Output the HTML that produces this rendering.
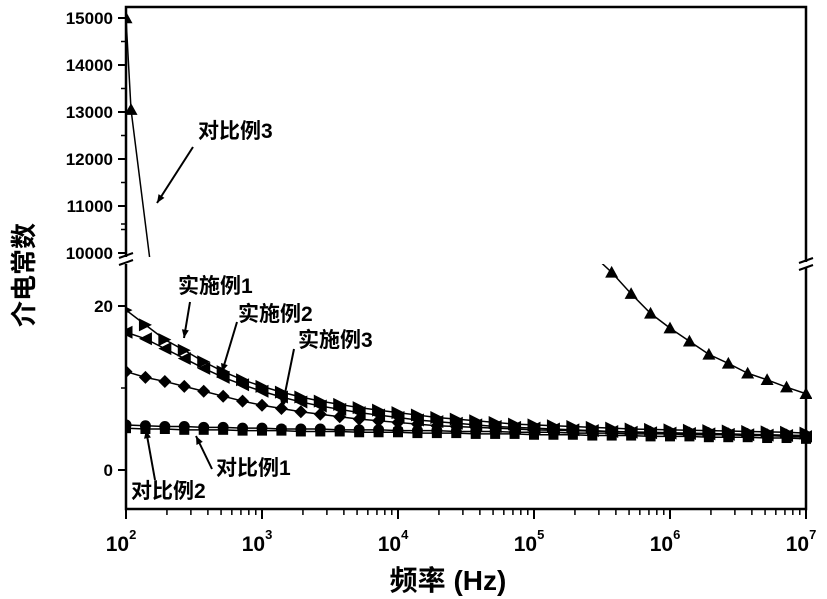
<!DOCTYPE html>
<html><head><meta charset="utf-8"><style>
body{margin:0;background:#fff}
svg{display:block}
text{font-family:"Liberation Sans","Noto Sans CJK SC",sans-serif;font-weight:bold;fill:#000}
</style></head><body>
<svg id="chart" width="827" height="599" viewBox="0 0 827 599"></svg>
<script>
const logF = [];
for (let k = 0; k <= 35; k++) logF.push(2 + k / 7);
const example1 = [19.5,17.7,15.9,14.6,13.2,12.0,11.0,10.2,9.5,8.9,8.4,8.0,7.6,7.3,7.0,6.7,6.4,6.2,6.0,5.8,5.6,5.5,5.4,5.3,5.2,5.1,5.0,4.95,4.9,4.85,4.8,4.75,4.7,4.65,4.6,4.5];
const example2 = [16.8,16.0,14.8,13.6,12.4,11.3,10.4,9.6,8.9,8.3,7.8,7.4,7.0,6.7,6.4,6.1,5.9,5.7,5.5,5.3,5.2,5.1,5.0,4.9,4.8,4.7,4.6,4.55,4.5,4.45,4.4,4.35,4.3,4.25,4.2,4.1];
const example3 = [12.0,11.3,10.8,10.2,9.6,9.0,8.4,7.9,7.5,7.1,6.8,6.5,6.2,6.0,5.8,5.6,5.4,5.3,5.2,5.1,5.0,4.9,4.85,4.8,4.75,4.7,4.65,4.6,4.55,4.5,4.45,4.4,4.35,4.3,4.25,4.2];
const compare1 = [5.5,5.4,5.3,5.3,5.2,5.2,5.1,5.1,5.0,5.0,5.0,4.9,4.9,4.9,4.8,4.8,4.8,4.7,4.7,4.7,4.6,4.6,4.6,4.5,4.5,4.5,4.4,4.4,4.4,4.3,4.3,4.3,4.2,4.2,4.1,4.0];
const compare2 = [5.1,5.0,5.0,4.9,4.9,4.9,4.8,4.8,4.8,4.7,4.7,4.7,4.6,4.6,4.6,4.5,4.5,4.5,4.4,4.4,4.4,4.3,4.3,4.3,4.2,4.2,4.2,4.1,4.1,4.1,4.0,4.0,4.0,3.9,3.9,3.8];
const compare3HighLogF = [2.0, 2.037, 2.2];
const compare3High = [15000, 13050, 9300];
const compare3LowLogF = [5.50,5.571,5.714,5.857,6.0,6.143,6.286,6.429,6.571,6.714,6.857,7.0];
const compare3Low = [25.2,24.1,21.5,19.1,17.3,15.7,14.1,13.0,11.8,11.0,10.1,9.3];
const xTicks = [2,3,4,5,6,7];
const yHighTicks = [10000,11000,12000,13000,14000,15000];
const yLowTicks = [0,20];

const NS = "http://www.w3.org/2000/svg";
const svg = document.getElementById("chart");
const L = 126, R = 806, T = 7, B = 509;
const X = lf => L + (lf - 2) * (R - L) / 5;
const YH = v => 253 - (v - 10000) * 0.047;
const YL = v => 470 - v * 8.2;
function mk(tag, attrs, parent) {
  const e = document.createElementNS(NS, tag);
  for (const k in attrs) e.setAttribute(k, attrs[k]);
  (parent || svg).appendChild(e);
  return e;
}
const defs = mk("defs", {});
const c1 = mk("clipPath", {id: "clipHigh"}, defs);
mk("rect", {x: L, y: T, width: R - L, height: 257 - T}, c1);
const c2 = mk("clipPath", {id: "clipLow"}, defs);
mk("rect", {x: L, y: 264, width: R - L + 6, height: B - 264}, c2);

const frame = mk("path", {d: `M${L},257 V${T} H${R} V262 M${R},268 V${B} H${L} V264`, fill: "none", stroke: "#000", "stroke-width": 2.5});


const brk = mk("path", {d: `M${L-7},258 L${L+7},253 M${L-7},265 L${L+7},260 M${R-7},263 L${R+7},258 M${R-7},270 L${R+7},265`, stroke: "#000", "stroke-width": 2});



xTicks.forEach(d => {
  const x = X(d);
  mk("line", {x1: x, y1: B, x2: x, y2: B + 10, stroke: "#000", "stroke-width": 2});
  const t = mk("text", {x: x - 5, y: 551, "font-size": 21, "text-anchor": "middle"});
  t.textContent = "10";
  
  
  const s = mk("tspan", {dx: 0, dy: -12, "font-size": 13}, t);
  s.textContent = d;
  if (d < 7) for (let m = 2; m <= 9; m++) {
    const xm = X(d + Math.log10(m));
    mk("line", {x1: xm, y1: B, x2: xm, y2: B + 6, stroke: "#000", "stroke-width": 1.5});
  }
});
yHighTicks.forEach(v => {
  const y = YH(v);
  mk("line", {x1: L, y1: y, x2: L - 8, y2: y, stroke: "#000", "stroke-width": 2});
  if (v < 15000) mk("line", {x1: L, y1: YH(v + 500), x2: L - 5, y2: YH(v + 500), stroke: "#000", "stroke-width": 1.5});
  const t = mk("text", {x: L - 13, y: y + 6, "font-size": 17, "text-anchor": "end"});
  t.textContent = v;
  
  
});
yLowTicks.forEach(v => {
  const y = YL(v);
  mk("line", {x1: L, y1: y, x2: L - 8, y2: y, stroke: "#000", "stroke-width": 2});
  mk("line", {x1: L, y1: YL(v + 10), x2: L - 5, y2: YL(v + 10), stroke: "#000", "stroke-width": 1.5});
  const t = mk("text", {x: L - 13, y: y + 6, "font-size": 17, "text-anchor": "end"});
  t.textContent = v;
  
  
});

function marker(g, type, x, y) {
  const s = 6.5;
  if (type === "right") mk("polygon", {points: `${x-s},${y-s} ${x+s},${y} ${x-s},${y+s}`}, g);
  else if (type === "left") mk("polygon", {points: `${x+s},${y-s} ${x-s},${y} ${x+s},${y+s}`}, g);
  else if (type === "up") mk("polygon", {points: `${x},${y-s} ${x+s},${y+s*0.8} ${x-s},${y+s*0.8}`}, g);
  else if (type === "diamond") mk("polygon", {points: `${x},${y-s} ${x+s},${y} ${x},${y+s} ${x-s},${y}`}, g);
  else if (type === "circle") mk("circle", {cx: x, cy: y, r: 5.5}, g);
  else mk("rect", {x: x - 5, y: y - 5, width: 10, height: 10}, g);
}
function series(name, xs, vals, Y, type, clip, skipFirstMarker, skipLastMarker) {
  const g = mk("g", {"clip-path": `url(#${clip})`, fill: "#000"});
  
  
  mk("polyline", {points: xs.map((lf, i) => `${X(lf)},${Y(vals[i])}`).join(" "), fill: "none", stroke: "#000", "stroke-width": 1.5}, g);
  xs.forEach((lf, i) => {
    if (skipFirstMarker && i === 0) return;
    if (skipLastMarker && i === xs.length - 1) return;
    marker(g, type, X(lf), Y(vals[i]));
  });
}
series("series-example1", logF, example1, YL, "right", "clipLow");
series("series-example2", logF, example2, YL, "left", "clipLow");
series("series-example3", logF, example3, YL, "diamond", "clipLow");
series("series-compare1", logF, compare1, YL, "circle", "clipLow");
series("series-compare2", logF, compare2, YL, "square", "clipLow");
series("series-compare3-high", compare3HighLogF, compare3High, YH, "up", "clipHigh", false, true);
series("series-compare3-low", compare3LowLogF, compare3Low, YL, "up", "clipLow", true, false);

const ann = [
  ["label-compare3", "对比例3", 198, 138, 193, 147, 157, 203],
  ["label-example1", "实施例1", 178, 293, 190, 302, 184, 338],
  ["label-example2", "实施例2", 238, 321, 237, 322, 222, 372],
  ["label-example3", "实施例3", 298, 347, 294, 349, 282, 408],
  ["label-compare1", "对比例1", 216, 475, 212, 469, 196, 436],
  ["label-compare2", "对比例2", 131, 498, 155, 480, 146, 430]
];
ann.forEach(a => {
  const t = mk("text", {x: a[2], y: a[3], "font-size": 21});
  t.textContent = a[1];
  
  
  mk("line", {x1: a[4], y1: a[5], x2: a[6], y2: a[7], stroke: "#000", "stroke-width": 2});
  const ang = Math.atan2(a[7] - a[5], a[6] - a[4]);
  const hx = a[6], hy = a[7], l = 9, w = 0.4;
  mk("polygon", {points: `${hx},${hy} ${hx - l*Math.cos(ang-w)},${hy - l*Math.sin(ang-w)} ${hx - l*Math.cos(ang+w)},${hy - l*Math.sin(ang+w)}`, fill: "#000"});
});

const yt = mk("text", {x: 0, y: 0, "font-size": 26, "text-anchor": "middle", transform: "translate(33,275) rotate(-90)"});
yt.textContent = "介电常数";


const xt = mk("text", {x: 448, y: 590, "font-size": 28, "text-anchor": "middle"});
xt.textContent = "频率 (Hz)";


</script>
</body></html>
